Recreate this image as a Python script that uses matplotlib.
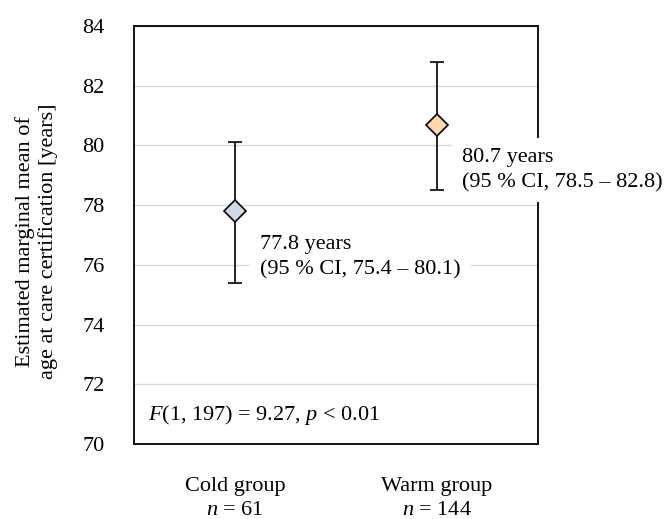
import matplotlib
matplotlib.use("Agg")
import matplotlib.pyplot as plt

plt.rcParams['font.family'] = ['Liberation Serif', 'DejaVu Serif']
plt.rcParams['mathtext.fontset'] = 'custom'
plt.rcParams['mathtext.rm'] = 'Liberation Serif'
plt.rcParams['mathtext.it'] = 'Liberation Serif:italic'

groups = ["Cold group", "Warm group"]
group_n = [61, 144]
means = [77.8, 80.7]
ci_low = [75.4, 78.5]
ci_high = [80.1, 82.8]
colors = ["#cfdae8", "#fcd8aa"]
stat_text = "$F$(1, 197) = 9.27, $p$ < 0.01"

fig = plt.figure(figsize=(6.69, 5.19), dpi=100)
ax = fig.add_axes([0.2003, 0.1445, 0.604, 0.8054])

xs = [1, 2]
for x, m, lo, hi, c in zip(xs, means, ci_low, ci_high, colors):
    ax.errorbar(x, m, yerr=[[m - lo], [hi - m]], fmt='none', ecolor='black',
                elinewidth=1.2, capsize=5, capthick=1.2, zorder=3)
    ax.plot(x, m, marker='D', ms=11.5, mfc=c, mec='black', mew=1.2, zorder=4)
    # value label sits on a white box so it hides grid and frame behind it
    ax.annotate(f"{m:.1f} years\n(95 % CI, {lo:.1f} – {hi:.1f})",
                xy=(x, m), xytext=(18, -33), textcoords='offset points',
                ha='left', va='center', fontsize=16, linespacing=1.42,
                bbox=dict(boxstyle='square,pad=0.45', fc='white', ec='none'),
                zorder=10, annotation_clip=False)

ax.set_xlim(0.5, 2.5)
ax.set_ylim(70, 84)
ax.set_yticks(range(70, 85, 2))
ax.set_xticks(xs)
ax.set_xticklabels([f"{g}\n$n$ = {n}" for g, n in zip(groups, group_n)],
                   linespacing=1.3)
ax.tick_params(axis='both', length=0, labelsize=16)
ax.tick_params(axis='y', pad=21)
ax.tick_params(axis='x', pad=24)
ax.grid(axis='y', color='#d9d9d9', linewidth=1.0)
ax.set_axisbelow(True)
for s in ax.spines.values():
    s.set_linewidth(1.3)

ax.set_ylabel("Estimated marginal mean of\nage at care certification [years]",
              fontsize=16)
ax.yaxis.set_label_coords(-0.188, 0.485)
ax.text(0.035, 0.07, stat_text, transform=ax.transAxes, fontsize=16,
        ha='left', va='center')

fig.savefig("out.png", dpi=100)
